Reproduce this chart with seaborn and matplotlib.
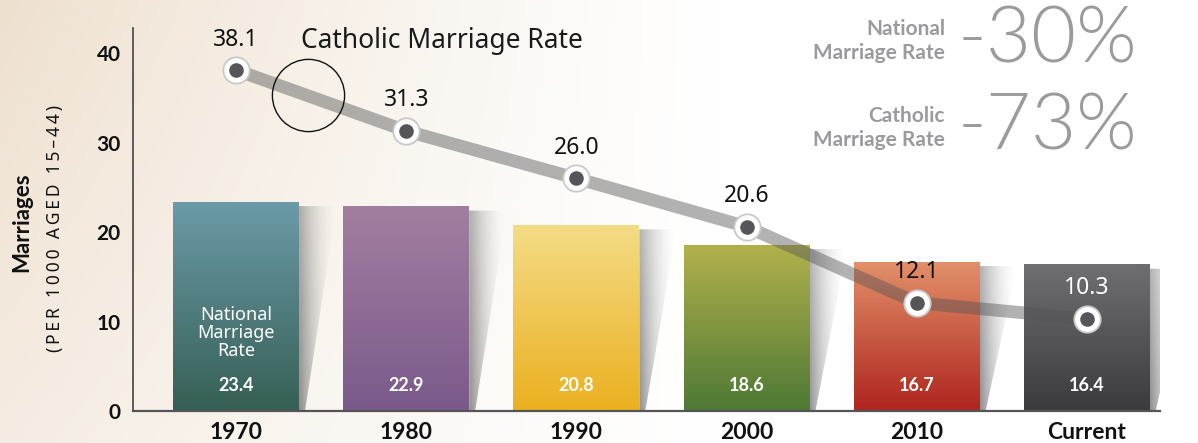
import numpy as np
import pandas as pd
import matplotlib
matplotlib.use("Agg")
import matplotlib.pyplot as plt
import seaborn as sns
from matplotlib.colors import to_rgb
from matplotlib.patches import Polygon

# ---------------- data ----------------
periods = ["1970", "1980", "1990", "2000", "2010", "Current"]
national_rate = [23.4, 22.9, 20.8, 18.6, 16.7, 16.4]
catholic_rate = [38.1, 31.3, 26.0, 20.6, 12.1, 10.3]
yticks = [0, 10, 20, 30, 40]
national_change = "-30%"
catholic_change = "-73%"

bar_top_colors = ["#6b9ba9", "#a27ea0", "#f4dc86", "#b2b14c", "#e2906a", "#6f6f72"]
bar_bottom_colors = ["#365f54", "#7a5a8b", "#ebb020", "#4e7935", "#ae251e", "#3b3b3d"]

REG = ["Noto Sans", "DejaVu Sans"]
BOLD = ["Lato", "DejaVu Sans"]

sns.set_theme(style="white")
plt.rcParams["font.family"] = REG

W, H = 1198, 443
fig = plt.figure(figsize=(W / 100, H / 100), dpi=100)

# ---------- background (soft beige fading to white) ----------
bg = fig.add_axes([0, 0, 1, 1], zorder=-10)
gx = np.linspace(0, 1, 400)[None, :]
gy = np.linspace(0, 1, 150)[:, None]
alpha = np.clip(1 - gx / 0.6, 0, 1) ** 1.2 * (0.6 + 0.4 * gy)
beige = np.array(to_rgb("#eee0cf"))
img = np.ones((150, 400, 3)) * (1 - alpha[..., None]) + beige * alpha[..., None]
bg.imshow(img, extent=(0, 1, 0, 1), aspect="auto", origin="lower")
bg.set_axis_off()

# ---------- main axes ----------
ax = fig.add_axes([133 / W, 1 - 411 / H, (1160 - 133) / W, (411 - 28) / H])
ax.patch.set_alpha(0)

df = pd.DataFrame({"period": periods, "national": national_rate, "catholic": catholic_rate})
sns.barplot(data=df, x="period", y="national", hue="period", palette=bar_bottom_colors,
            legend=False, width=0.74, saturation=1, ax=ax, zorder=2)

XL = (-0.606, 5.43)
YL = (0, 42.8)

# gradient fill for bars and shadows
for i, p in enumerate(ax.patches):
    x0, w, h = p.get_x(), p.get_width(), p.get_height()
    top = np.array(to_rgb(bar_top_colors[i]))
    bot = np.array(to_rgb(bar_bottom_colors[i]))
    t = np.linspace(0, 1, 100)[:, None]
    grad = (bot * (1 - t) + top * t)[:, None, :]
    im = ax.imshow(grad, extent=(x0, x0 + w, 0, h), origin="lower", aspect="auto", zorder=2.1)
    im.set_clip_path(p)
    p.set_edgecolor("none")

    # shadow
    xr = x0 + w
    stop = h - 0.5
    poly = Polygon([(xr, stop), (xr + 0.22, stop), (xr + 0.035, 0), (xr, 0)],
                   closed=True, facecolor="none", edgecolor="none", zorder=1)
    ax.add_patch(poly)
    sx = np.linspace(0, 1, 100)[None, :]
    sy = np.linspace(0, 1, 60)[:, None]
    a = (1 - sx) ** 1.8 * 0.65 * (1 - 0.3 * sy)
    sh = np.zeros((60, 100, 4))
    sh[..., :3] = 0.33
    sh[..., 3] = a
    sim = ax.imshow(sh, extent=(xr, xr + 0.22, 0, stop), origin="lower", aspect="auto", zorder=1)
    sim.set_clip_path(poly)

    # value label inside bar
    ax.text(x0 + w / 2, 2.9, f"{national_rate[i]:.1f}", ha="center", va="center",
            color="white", fontsize=13, fontweight="bold", family=BOLD, zorder=6)

ax.text(0, 8.7, "National\nMarriage\nRate", ha="center", va="center", color="white",
        fontsize=13, linespacing=1.02, zorder=6)

# ---------- catholic line ----------
xpos = np.arange(len(periods))
sns.lineplot(x=xpos, y=catholic_rate, ax=ax, color="#555555", alpha=0.45,
             linewidth=9.2, zorder=4, solid_capstyle="butt", legend=False)
ax.scatter(xpos, catholic_rate, s=19 ** 2, color="white", edgecolor="#c9c9c9",
           linewidth=1.3, zorder=5)
ax.scatter(xpos, catholic_rate, s=10.5 ** 2, color="#56565a", linewidth=0, zorder=5.5)
for i, v in enumerate(catholic_rate):
    ax.annotate(f"{v:.1f}", (xpos[i], v), xytext=(0, 22), textcoords="offset points",
                ha="center", va="center", fontsize=16.5,
                color="white" if i == len(periods) - 1 else "#111111", zorder=6)

# decorative circle
ax.plot([0.424], [35.3], marker="o", ms=52, mfc="none", mec="#111111", mew=1.0, zorder=6)

ax.text(0.38, 41.4, "Catholic Marriage Rate", ha="left", va="center", fontsize=19,
        color="#1a1a1a", zorder=6)

# ---------- axes styling ----------
ax.set_xlim(*XL)
ax.set_ylim(*YL)
ax.set_yticks(yticks)
ax.set_yticklabels([str(v) for v in yticks], fontsize=15, fontweight="bold",
                   color="#111111", family=BOLD)
ax.set_xticks(xpos)
ax.set_xticklabels(periods, fontsize=16.5, fontweight="bold", color="#111111", family=BOLD)
ax.tick_params(axis="x", length=0, pad=8)
ax.tick_params(axis="y", length=0, pad=9)
ax.set_xlabel("")
ax.set_ylabel("")
for s in ["top", "right"]:
    ax.spines[s].set_visible(False)
ax.spines["left"].set_color("#444444")
ax.spines["left"].set_linewidth(1.2)
ax.spines["bottom"].set_color("#555555")
ax.spines["bottom"].set_linewidth(1.6)
ax.spines["left"].set_zorder(7)
ax.spines["bottom"].set_zorder(7)

# y label
fig.text(22 / W, 1 - 222 / H, "Marriages", rotation=90, ha="center", va="center",
         fontsize=16, fontweight="bold", color="#111111", family=BOLD)
sub = "\u2009".join("(PER 1000 AGED 15–44)")
fig.text(55 / W, 1 - 229 / H, sub, rotation=90, ha="center",
         va="center", fontsize=12.5, color="#111111")

# ---------- change summary ----------
gray = "#9b9b9e"
fig.text(945 / W, 1 - 41 / H, "National\nMarriage Rate", ha="right", va="center",
         fontsize=15, fontweight="bold", color=gray, linespacing=1.2, family=BOLD)
fig.text(958 / W, 1 - 41 / H, national_change, ha="left", va="center",
         fontsize=56, fontweight=300, color=gray, family=["Lato", "DejaVu Sans"])
fig.text(945 / W, 1 - 128 / H, "Catholic\nMarriage Rate", ha="right", va="center",
         fontsize=15, fontweight="bold", color=gray, linespacing=1.2, family=BOLD)
fig.text(958 / W, 1 - 128 / H, catholic_change, ha="left", va="center",
         fontsize=56, fontweight=300, color=gray, family=["Lato", "DejaVu Sans"])

fig.savefig("out.png", dpi=100)
